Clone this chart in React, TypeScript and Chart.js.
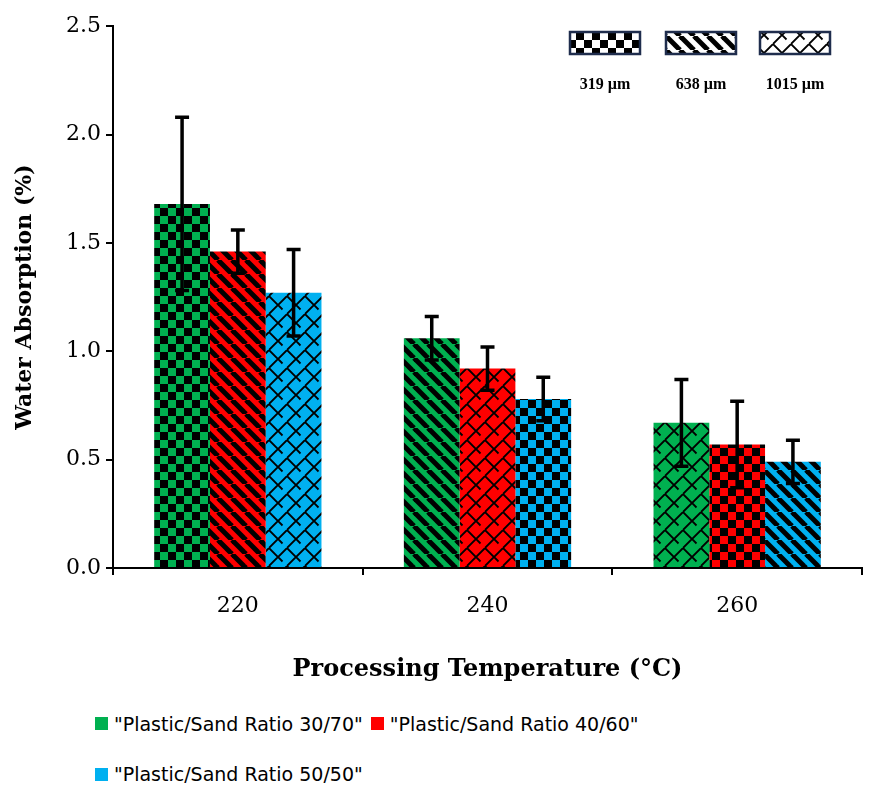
import React, { useEffect, useRef } from "react";
import { Chart, registerables } from "chart.js";
Chart.register(...registerables);

const categories = ["220", "240", "260"];
const seriesNames = ['"Plastic/Sand Ratio 30/70"', '"Plastic/Sand Ratio 40/60"', '"Plastic/Sand Ratio 50/50"'];
const colors = ["#00b050", "#ff0000", "#00b0f0"];
const ratio3070 = [1.68, 1.06, 0.67];
const ratio4060 = [1.46, 0.92, 0.57];
const ratio5050 = [1.27, 0.78, 0.49];
const err3070 = [0.4, 0.1, 0.2];
const err4060 = [0.1, 0.1, 0.2];
const err5050 = [0.2, 0.1, 0.1];
// pattern per series per category: c=checker(319), s=stripes(638), z=zigzag(1015)
const patt3070 = ["c", "s", "z"];
const patt4060 = ["s", "z", "c"];
const patt5050 = ["z", "c", "s"];
const patternLegend = [["c", "319 µm"], ["s", "638 µm"], ["z", "1015 µm"]];
const yTicks = [0, 0.5, 1.0, 1.5, 2.0, 2.5];

function makePattern(kind: string, bg: string): CanvasPattern {
  const c = document.createElement("canvas");
  const n = kind === "z" ? 18 : kind === "c" ? 16 : 14;
  c.width = n; c.height = n;
  const g = c.getContext("2d")!;
  g.fillStyle = bg; g.fillRect(0, 0, n, n);
  g.fillStyle = "#000"; g.strokeStyle = "#000";
  if (kind === "c") {
    g.fillRect(0, 0, 8, 8); g.fillRect(8, 8, 8, 8);
  } else if (kind === "s") {
    g.lineWidth = 5;
    for (let k = -1; k <= 1; k++) {
      g.beginPath(); g.moveTo(k * n, 0); g.lineTo(k * n + n, n); g.stroke();
    }
  } else {
    g.lineWidth = 1.8;
    g.beginPath();
    g.moveTo(0, 9); g.lineTo(9, 0);
    g.moveTo(9, 18); g.lineTo(18, 9);
    g.moveTo(9, 0); g.lineTo(18, 9);
    g.moveTo(0, 9); g.lineTo(4.5, 13.5);
    g.stroke();
  }
  return g.createPattern(c, "repeat")!;
}

export default function App() {
  const ref = useRef<HTMLCanvasElement>(null);
  useEffect(() => {
    const vals = [ratio3070, ratio4060, ratio5050];
    const errs = [err3070, err4060, err5050];
    const patts = [patt3070, patt4060, patt5050];
    const errPlugin = {
      id: "err",
      afterDatasetsDraw(chart: any) {
        const ctx = chart.ctx;
        const y = chart.scales.y;
        ctx.save();
        ctx.strokeStyle = "#000"; ctx.lineWidth = 3.5;
        vals.forEach((v, di) => {
          const meta = chart.getDatasetMeta(di);
          meta.data.forEach((bar: any, i: number) => {
            const x = bar.x;
            const top = y.getPixelForValue(v[i] + errs[di][i]);
            const bot = y.getPixelForValue(v[i] - errs[di][i]);
            ctx.beginPath();
            ctx.moveTo(x, top); ctx.lineTo(x, bot);
            ctx.moveTo(x - 7, top); ctx.lineTo(x + 7, top);
            ctx.moveTo(x - 7, bot); ctx.lineTo(x + 7, bot);
            ctx.stroke();
          });
        });
        const xs = [570, 666, 760];
        patternLegend.forEach(([k, label], i) => {
          const x0 = xs[i] - 8, y0 = 24;
          ctx.fillStyle = makePattern(k, "#fff");
          ctx.fillRect(x0, y0, 70, 22);
          ctx.strokeStyle = "#1f2d4d"; ctx.lineWidth = 2.5;
          ctx.strokeRect(x0, y0, 70, 22);
          ctx.fillStyle = "#000";
          ctx.font = "bold 16px 'Liberation Serif'";
          ctx.textAlign = "center";
          ctx.fillText(label, x0 + 35, 81);
        });
        ctx.restore();
      },
    };
    const chart = new Chart(ref.current!, {
      type: "bar",
      data: {
        labels: categories,
        datasets: vals.map((v, di) => ({
          label: seriesNames[di],
          data: v,
          backgroundColor: patts[di].map((p) => makePattern(p, colors[di])),
          borderWidth: 0,
          categoryPercentage: 0.67,
          barPercentage: 1,
        })),
      },
      options: {
        animation: false,
        responsive: false,
        layout: { padding: { top: 12, right: 1, left: 0, bottom: 0 } },
        plugins: { legend: { display: false }, tooltip: { enabled: false } },
        scales: {
          x: {
            afterFit: (s: any) => { s.height = 120; },
            grid: { display: true, drawOnChartArea: false, drawTicks: true, tickLength: 7, color: "#000", lineWidth: 2 },
            border: { color: "#000", width: 2 },
            ticks: { color: "#000", font: { family: "'DejaVu Serif'", size: 22 }, padding: 18 },
            title: { display: true, text: "Processing Temperature (°C)", color: "#000", font: { family: "'DejaVu Serif'", size: 24, weight: "bold" }, padding: { top: 0 } },
          },
          y: {
            min: 0, max: 2.5,
            afterFit: (s: any) => { s.width = 105; },
            afterBuildTicks: (s: any) => { s.ticks = yTicks.map((v) => ({ value: v })); },
            grid: { display: true, drawOnChartArea: false, drawTicks: true, tickLength: 7, color: "#000", lineWidth: 2 },
            border: { color: "#000", width: 2 },
            ticks: { color: "#000", font: { family: "'DejaVu Serif'", size: 22 }, padding: 5, callback: (v: any) => Number(v).toFixed(1) },
            title: { display: true, text: "Water Absorption (%)", color: "#000", font: { family: "'DejaVu Serif'", size: 22, weight: "bold" }, padding: { bottom: 2 } },
          },
        },
      },
      plugins: [errPlugin],
    });
    return () => chart.destroy();
  }, []);
  const item = (i: number) => (
    <span style={{ display: "inline-flex", alignItems: "center", marginRight: 8 }}>
      <span style={{ width: 13, height: 13, background: colors[i], display: "inline-block", marginRight: 6 }} />
      {seriesNames[i]}
    </span>
  );
  return (
    <div style={{ width: 855, fontFamily: "'DejaVu Sans'", fontSize: 19, color: "#000" }}>
      <canvas ref={ref} width={855} height={680} style={{ display: "block" }} />
      <div style={{ paddingLeft: 87, marginTop: 10, lineHeight: "50px" }}>
        <div>{item(0)}{item(1)}</div>
        <div>{item(2)}</div>
      </div>
    </div>
  );
}
